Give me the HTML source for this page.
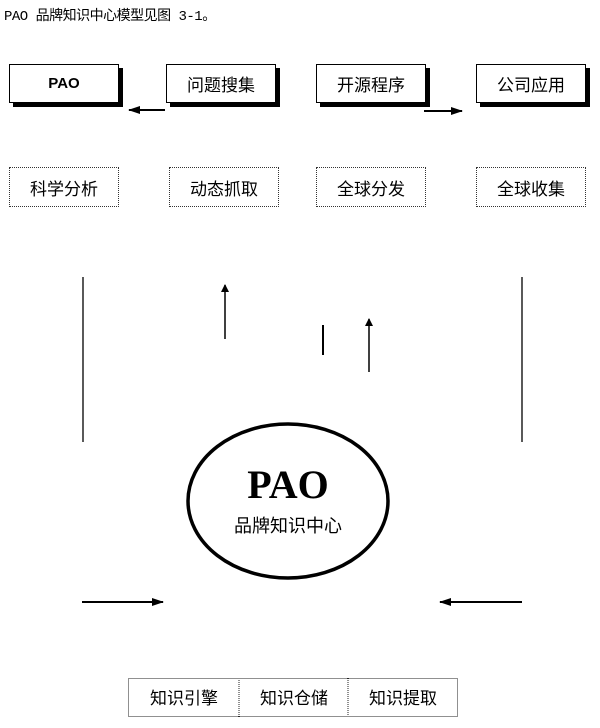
<!DOCTYPE html>
<html><head><meta charset="utf-8"><style>
body{margin:0;width:600px;height:728px;background:#fff;position:relative;overflow:hidden;font-family:"Liberation Sans","Noto Sans CJK SC",sans-serif}
.t{position:absolute;left:4px;top:5px;font-family:"Liberation Mono","Noto Sans CJK SC",monospace;font-size:14px;color:#000;letter-spacing:-0.5px}
.b{position:absolute;box-sizing:border-box;border:1.5px solid #000;background:#fff;box-shadow:4px 4px 0 #000;display:flex;align-items:center;justify-content:center;font-size:17px}
.d{position:absolute;box-sizing:border-box;border:1px dotted #333;display:flex;align-items:center;justify-content:center;font-size:17px}
</style></head><body>
<div class="t">PAO 品牌知识中心模型见图 3-1。</div>
<div class="b" style="left:9px;top:64px;width:110px;height:39px;font-weight:bold;font-size:15px">PAO</div>
<div class="b" style="left:166px;top:64px;width:110px;height:39px">问题搜集</div>
<div class="b" style="left:316px;top:64px;width:110px;height:39px">开源程序</div>
<div class="b" style="left:476px;top:64px;width:110px;height:39px">公司应用</div>
<div class="d" style="left:9px;top:167px;width:110px;height:40px">科学分析</div>
<div class="d" style="left:169px;top:167px;width:110px;height:40px">动态抓取</div>
<div class="d" style="left:316px;top:167px;width:110px;height:40px">全球分发</div>
<div class="d" style="left:476px;top:167px;width:110px;height:40px">全球收集</div>
<svg width="600" height="728" style="position:absolute;left:0;top:0">
<defs><marker id="a" markerWidth="8" markerHeight="8" refX="7" refY="4" orient="auto" markerUnits="userSpaceOnUse"><path d="M0,0L8,4L0,8z" fill="#000"/></marker>
<marker id="b" markerWidth="12" markerHeight="8" refX="11" refY="4" orient="auto" markerUnits="userSpaceOnUse"><path d="M0,0L12,4L0,8z" fill="#000"/></marker></defs>
<g stroke="#000" fill="none">
<line x1="165" y1="110" x2="129" y2="110" stroke-width="2" marker-end="url(#b)"/>
<line x1="424" y1="111" x2="462" y2="111" stroke-width="2" marker-end="url(#b)"/>
<line x1="83" y1="277" x2="83" y2="442" stroke-width="1.3"/>
<line x1="522" y1="277" x2="522" y2="442" stroke-width="1.3"/>
<line x1="225" y1="339" x2="225" y2="285" stroke-width="1.5" marker-end="url(#a)"/>
<line x1="323" y1="325" x2="323" y2="355" stroke-width="2"/>
<line x1="369" y1="372" x2="369" y2="319" stroke-width="1.5" marker-end="url(#a)"/>
<ellipse cx="288" cy="501" rx="100" ry="77" stroke-width="3.5"/>
<line x1="82" y1="602" x2="163" y2="602" stroke-width="2" marker-end="url(#b)"/>
<line x1="522" y1="602" x2="440" y2="602" stroke-width="2" marker-end="url(#b)"/>
<rect x="128.5" y="678.5" width="329" height="38" stroke="#222" stroke-dasharray="1,1"/>
<line x1="239" y1="678" x2="239" y2="717" stroke="#222" stroke-dasharray="1,1"/>
<line x1="348" y1="678" x2="348" y2="717" stroke="#222" stroke-dasharray="1,1"/>
</g>
<text x="288" y="498" text-anchor="middle" font-family="Liberation Serif,serif" font-weight="bold" font-size="40">PAO</text>
<text x="288" y="532" text-anchor="middle" font-family="Liberation Sans,Noto Sans CJK SC,sans-serif" font-size="18">品牌知识中心</text>
<g font-family="Liberation Sans,Noto Sans CJK SC,sans-serif" font-size="17" text-anchor="middle">
<text x="184" y="704">知识引擎</text><text x="294" y="704">知识仓储</text><text x="403" y="704">知识提取</text>
</g>
</svg>
</body></html>
